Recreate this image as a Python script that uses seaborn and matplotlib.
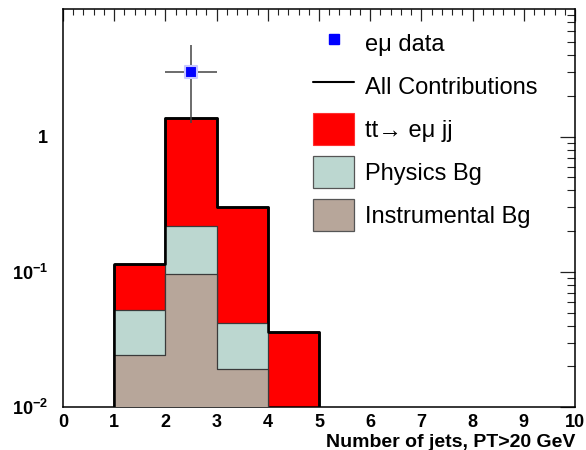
import numpy as np
import pandas as pd
import matplotlib
matplotlib.use("Agg")
import matplotlib.pyplot as plt
from matplotlib.lines import Line2D
from matplotlib.patches import Patch
from matplotlib.ticker import FixedLocator, MultipleLocator, LogLocator, NullFormatter
import seaborn as sns

# ---- data ----
bin_edges = [1, 2, 3, 4, 5]
bin_centers = [1.5, 2.5, 3.5, 4.5]
instrumental_bg = [0.0243, 0.097, 0.019, 0.0]
physics_bg = [0.0277, 0.122, 0.023, 0.0]
ttbar_emu = [0.063, 1.161, 0.258, 0.0357]
data_x = [2.5]
data_y = [3.0]
data_yerr = [1.73]
data_xerr = [0.5]
x_tick_labels = ["0", "1", "2", "3", "4", "5", "6", "7", "8", "9", "10"]
y_tick_values = [0.01, 0.1, 1]
y_tick_labels = [r"$\mathbf{10^{-2}}$", r"$\mathbf{10^{-1}}$", r"$\mathbf{1}$"]
legend_labels = ["e\u03bc data", "All Contributions", "tt\u2192 e\u03bc jj", "Physics Bg", "Instrumental Bg"]

RED = "#ff0000"
TEAL = "#bcd7d0"
BROWN = "#b7a69a"

sns.set_style("white")
plt.rcParams["font.family"] = ["Liberation Sans", "DejaVu Sans"]
plt.rcParams["mathtext.fontset"] = "custom"
plt.rcParams["mathtext.rm"] = "Liberation Sans"
plt.rcParams["mathtext.bf"] = "Liberation Sans:bold"
plt.rcParams["mathtext.it"] = "Liberation Sans:italic"
plt.rcParams["text.color"] = "black"
plt.rcParams["axes.labelcolor"] = "black"

fig = plt.figure(figsize=(5.86, 4.5), dpi=100)
ax = fig.add_axes([63 / 586, 43 / 450, 512 / 586, 398 / 450])

inst = np.array(instrumental_bg)
phys_cum = inst + np.array(physics_bg)
total = phys_cum + np.array(ttbar_emu)

layers = pd.DataFrame({"x": bin_centers, "total": total, "phys": phys_cum, "inst": inst})

# total stack (red) with thick black outline
sns.histplot(data=layers, x="x", weights="total", bins=bin_edges, element="step",
             fill=True, color=RED, alpha=1, edgecolor="black", linewidth=1.8, ax=ax, zorder=2)
sns.histplot(data=layers, x="x", weights="phys", bins=bin_edges[:4], element="step",
             fill=True, color=TEAL, alpha=1, edgecolor="#3a3a3a", linewidth=0.9, ax=ax, zorder=3)
sns.histplot(data=layers, x="x", weights="inst", bins=bin_edges[:4], element="step",
             fill=True, color=BROWN, alpha=1, edgecolor="#3a3a3a", linewidth=0.9, ax=ax, zorder=4)
# redraw outline of total on top
sns.histplot(data=layers, x="x", weights="total", bins=bin_edges, element="step",
             fill=True, color=RED, alpha=1, edgecolor="black", linewidth=1.8, ax=ax, zorder=5)
ax.collections[-1].set_facecolor("none")

# data point
ax.errorbar(data_x, data_y, xerr=data_xerr, yerr=data_yerr, fmt="none",
            ecolor="#444444", elinewidth=1.1, capsize=0, zorder=6)
sns.scatterplot(x=data_x, y=data_y, marker="s", s=85, color="#0000ff",
                edgecolor="#c8c8ff", linewidth=1.5, ax=ax, zorder=7)

ax.set_yscale("log")
ax.set_xlim(0, 10)
ax.set_ylim(0.01, 8.8)

ax.xaxis.set_major_locator(FixedLocator(range(11)))
ax.set_xticklabels(x_tick_labels)
ax.xaxis.set_minor_locator(MultipleLocator(0.2))
ax.set_yticks(y_tick_values)
ax.set_yticklabels(y_tick_labels)
ax.yaxis.set_minor_locator(LogLocator(base=10, subs=np.arange(2, 10)))
ax.yaxis.set_minor_formatter(NullFormatter())

ax.tick_params(axis="both", which="both", direction="in", top=True, right=True, colors="#222222")
ax.tick_params(axis="x", which="major", length=8.5, width=0.9, pad=5, labelsize=13, labelcolor="black")
ax.tick_params(axis="x", which="minor", length=4.3, width=0.8)
ax.tick_params(axis="y", which="major", length=10.5, width=0.9, pad=10.5, labelsize=13, labelcolor="black")
ax.tick_params(axis="y", which="minor", length=5.5, width=0.8)
for lab in ax.get_xticklabels():
    lab.set_fontweight("bold")

for sp in ax.spines.values():
    sp.set_color("black")
    sp.set_linewidth(1.1)

ax.set_ylabel("")
ax.set_xlabel("Number of jets, PT>20 GeV", fontsize=14, fontweight="bold", loc="right",
              labelpad=2, color="black")

handles = [
    Line2D([], [], marker="s", color="none", markerfacecolor="#0000ff", markeredgecolor="#0000ff", markersize=7.5),
    Line2D([], [], color="black", linewidth=1.5),
    Patch(facecolor=RED, edgecolor="#ff3030", linewidth=0.8),
    Patch(facecolor=TEAL, edgecolor="#555555", linewidth=0.9),
    Patch(facecolor=BROWN, edgecolor="#555555", linewidth=0.9),
]
leg = ax.legend(handles, legend_labels, loc="upper left", bbox_to_anchor=(313 / 586, 1 - 27 / 450),
                bbox_transform=fig.transFigure, frameon=False, fontsize=17,
                handlelength=1.74, handleheight=1.705, handletextpad=0.47, labelspacing=0.47,
                borderpad=0, borderaxespad=0)
for t in leg.get_texts():
    t.set_color("black")

fig.savefig("out.png", dpi=100)
